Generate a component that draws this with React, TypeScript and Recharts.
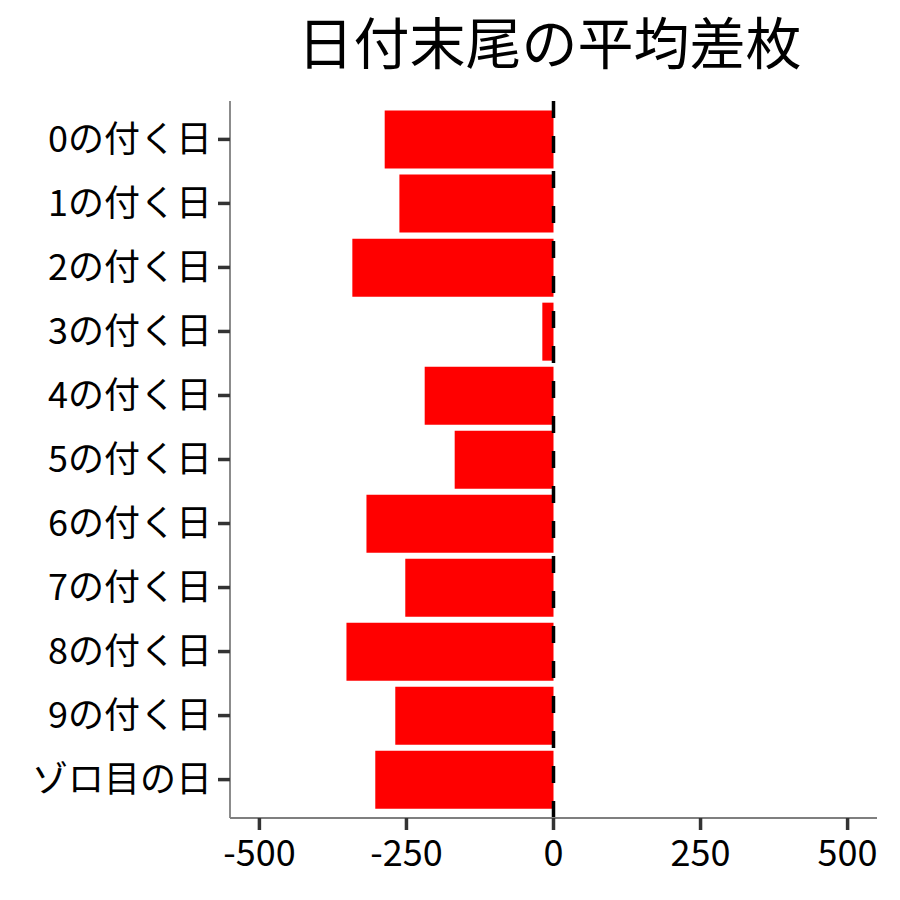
import React from "react";
import {
  BarChart,
  Bar,
  XAxis,
  YAxis,
  ReferenceLine,
} from "recharts";

const categories = [
  "0の付く日",
  "1の付く日",
  "2の付く日",
  "3の付く日",
  "4の付く日",
  "5の付く日",
  "6の付く日",
  "7の付く日",
  "8の付く日",
  "9の付く日",
  "ゾロ目の日",
];
const avgDiff = [-287, -262, -342, -19, -219, -168, -318, -252, -352, -269, -303];
const xTicks = [-500, -250, 0, 250, 500];

const FONT = "'Noto Sans CJK JP', 'Noto Sans', sans-serif";

const data = categories.map((name, i) => ({ name, value: avgDiff[i] }));

export default function App() {
  return (
    <div
      style={{
        position: "absolute",
        left: 0,
        top: 0,
        width: 900,
        height: 900,
        background: "#fff",
        fontFamily: FONT,
      }}
    >
      <div
        style={{
          position: "absolute",
          left: 226,
          width: 647,
          top: 12,
          textAlign: "center",
          fontSize: 56,
          lineHeight: "56px",
          color: "#000",
        }}
      >
        日付末尾の平均差枚
      </div>
      <BarChart
        width={900}
        height={900}
        data={data}
        layout="vertical"
        margin={{ top: 101, right: 23, bottom: 0, left: 0 }}
        barCategoryGap="5%"
      >
        <XAxis
          type="number"
          domain={[-550, 550]}
          ticks={xTicks}
          allowDataOverflow
          height={82}
          axisLine={{ stroke: "#7f7f7f", strokeWidth: 1.8 }}
          tickLine={{ stroke: "#333333", strokeWidth: 3.5 }}
          tickSize={12}
          tickMargin={10}
          tick={{ fill: "#000", fontSize: 36, fontFamily: FONT }}
        />
        {/* discrete axis: ggplot-style 0.6 band expansion → ~6.4px padding each side */}
        <YAxis
          type="category"
          dataKey="name"
          width={230}
          padding={{ top: 6.4, bottom: 6.4 }}
          axisLine={{ stroke: "#7f7f7f", strokeWidth: 1.8 }}
          tickLine={{ stroke: "#333333", strokeWidth: 3.5 }}
          tickSize={12}
          tickMargin={6}
          interval={0}
          tick={{ fill: "#000", fontSize: 36, fontFamily: FONT }}
        />
        <Bar dataKey="value" fill="#ff0000" isAnimationActive={false} />
        <ReferenceLine
          x={0}
          stroke="#000"
          strokeWidth={3.5}
          strokeDasharray="17 18"
        />
      </BarChart>
    </div>
  );
}
